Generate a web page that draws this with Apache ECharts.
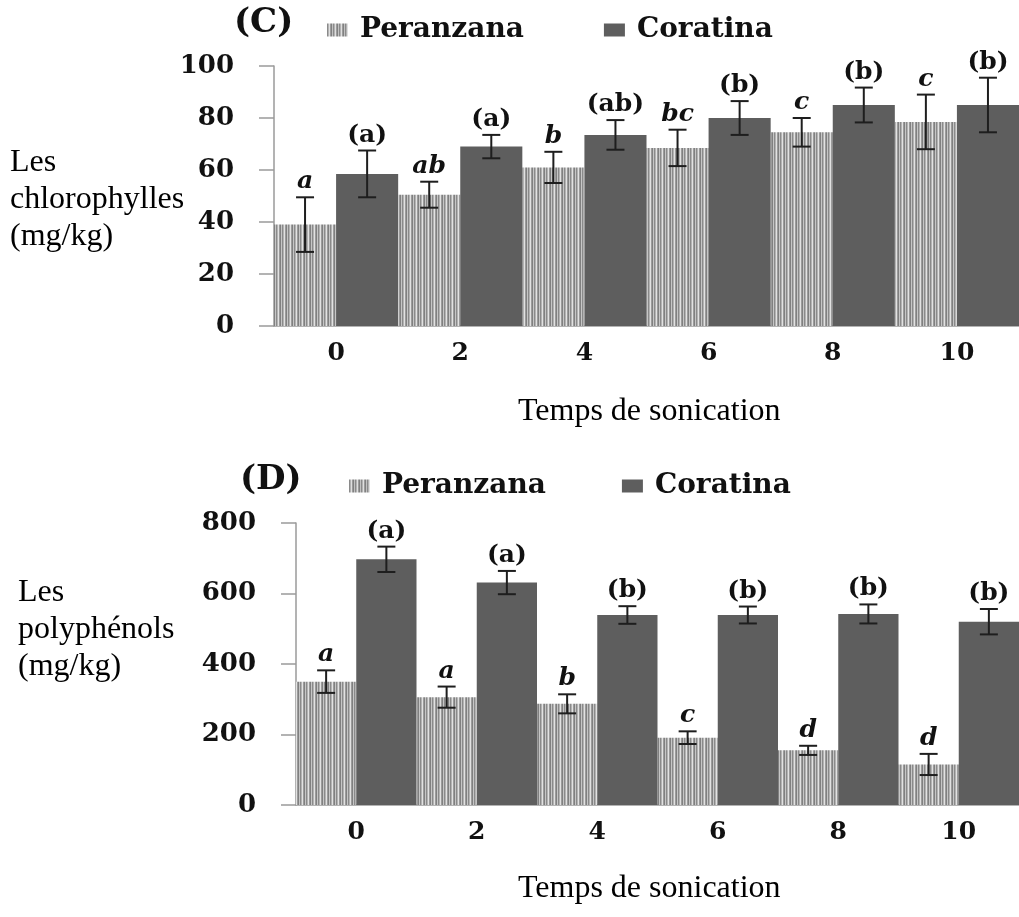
<!DOCTYPE html>
<html>
<head>
<meta charset="utf-8">
<script src="https://cdn.jsdelivr.net/npm/echarts@6/dist/echarts.min.js"></script>
<style>
html, body { margin: 0; padding: 0; background: #fff; }
#main { width: 1019px; height: 917px; }
</style>
</head>
<body>
<div id="main"></div>
<script>
/*==================== données ====================*/
var temps = ['0', '2', '4', '6', '8', '10'];

// (C) chlorophylles
var ticksC = [0, 20, 40, 60, 80, 100];
var perC = [39, 50.5, 61, 68.5, 74.5, 78.5];
var perCErr = [10.5, 5, 6, 7, 5.5, 10.5];
var perCLettres = ['a', 'ab', 'b', 'bc', 'c', 'c'];
var corC = [58.5, 69, 73.5, 80, 85, 85];
var corCErr = [9, 4.5, 5.7, 6.5, 6.7, 10.5];
var corCLettres = ['(a)', '(a)', '(ab)', '(b)', '(b)', '(b)'];

// (D) polyphénols
var ticksD = [0, 200, 400, 600, 800];
var perD = [350, 306, 287, 191, 155, 115];
var perDErr = [32, 30, 27, 18, 13, 30];
var perDLettres = ['a', 'a', 'b', 'c', 'd', 'd'];
var corD = [697, 631, 539, 539, 542, 520];
var corDErr = [36, 33, 25, 24, 27, 36];
var corDLettres = ['(a)', '(a)', '(b)', '(b)', '(b)', '(b)'];

var serif = 'DejaVu Serif';
var times = 'Liberation Serif';
var gris = '#5e5e5e';

// motif rayé vertical pour Peranzana
function rayures() {
    var c = document.createElement('canvas');
    c.width = 6;
    c.height = 4;
    var ctx = c.getContext('2d');
    var cols = ['#8a8a8a', '#b3b3b3', '#e2e2e2', '#9c9c9c', '#808080', '#c6c6c6'];
    for (var i = 0; i < cols.length; i++) {
        ctx.fillStyle = cols[i];
        ctx.fillRect(i, 0, 1, 4);
    }
    return c;
}
var motif = { image: rayures(), repeat: 'repeat' };

// barres d'erreur + lettres (side: -1 gauche, +1 droite)
function erreurs(idx, vals, errs, lettres, side, italique) {
    var data = vals.map(function (v, i) { return [i, v, errs[i]]; });
    return {
        type: 'custom',
        xAxisIndex: idx,
        yAxisIndex: idx,
        z: 5,
        silent: true,
        data: data,
        renderItem: function (params, api) {
            var band = api.size([1, 0])[0];
            var c = api.coord([api.value(0), api.value(1)]);
            var x = c[0] + side * band / 4;
            var hi = api.coord([api.value(0), api.value(1) + api.value(2)])[1];
            var lo = api.coord([api.value(0), api.value(1) - api.value(2)])[1];
            var st = { stroke: '#1e1e1e', lineWidth: 2 };
            return {
                type: 'group',
                children: [
                    { type: 'line', shape: { x1: x, y1: hi, x2: x, y2: lo }, style: st },
                    { type: 'line', shape: { x1: x - 9, y1: hi, x2: x + 9, y2: hi }, style: st },
                    { type: 'line', shape: { x1: x - 9, y1: lo, x2: x + 9, y2: lo }, style: st },
                    {
                        type: 'text',
                        x: x,
                        y: hi - 3,
                        style: {
                            text: lettres[params.dataIndex],
                            fill: '#111',
                            font: (italique ? 'italic ' : '') + 'bold 25px "' + serif + '"',
                            textAlign: 'center',
                            textVerticalAlign: 'bottom'
                        }
                    }
                ]
            };
        }
    };
}

function axeX(idx) {
    return {
        type: 'category',
        gridIndex: idx,
        data: temps,
        axisLine: { lineStyle: { color: '#9a9a9a', width: 1.5 } },
        axisTick: { show: false },
        axisLabel: {
            margin: 15,
            color: '#111',
            fontFamily: serif,
            fontWeight: 'bold',
            fontSize: 25
        }
    };
}

function axeY(idx, ticks) {
    return {
        type: 'value',
        gridIndex: idx,
        min: ticks[0],
        max: ticks[ticks.length - 1],
        interval: ticks[1] - ticks[0],
        axisLine: { show: true, lineStyle: { color: '#9a9a9a', width: 1.5 } },
        axisTick: { show: true, length: 15, lineStyle: { color: '#9a9a9a', width: 1.5 } },
        splitLine: { show: false },
        axisLabel: {
            margin: 40,
            color: '#111',
            fontFamily: serif,
            fontWeight: 'bold',
            fontSize: 26
        }
    };
}

function legende(top, left, gap) {
    return {
        data: ['Peranzana', 'Coratina'],
        top: top,
        left: left,
        icon: 'rect',
        itemWidth: 21,
        itemHeight: 13,
        itemGap: gap,
        textStyle: {
            color: '#111',
            fontFamily: serif,
            fontWeight: 'bold',
            fontSize: 28,
            padding: [0, 0, 0, 7]
        }
    };
}

function titre(txt, left, top) {
    return {
        text: txt,
        left: left,
        top: top,
        padding: 0,
        textStyle: {
            color: '#000',
            fontFamily: times,
            fontWeight: 'normal',
            fontSize: 32,
            lineHeight: 37
        }
    };
}

/*==================== echart ====================*/
var myChart = echarts.init(document.getElementById('main'));
var option = {
    backgroundColor: '#fff',
    animation: false,
    title: [
        { text: '(C)', left: 234, top: 6, padding: 0, textStyle: { color: '#111', fontFamily: serif, fontWeight: 'bold', fontSize: 34 } },
        { text: '(D)', left: 240, top: 463, padding: 0, textStyle: { color: '#111', fontFamily: serif, fontWeight: 'bold', fontSize: 34 } },
        titre('Les\nchlorophylles\n(mg/kg)', 10, 144),
        titre('Les\npolyphénols\n(mg/kg)', 18, 574),
        titre('Temps de sonication', 518, 393),
        titre('Temps de sonication', 518, 870)
    ],
    legend: [legende(11, 322, 80), legende(467, 344, 76)],
    grid: [
        { left: 274, top: 66, width: 750, height: 260 },
        { left: 296, top: 523, width: 728, height: 282 }
    ],
    xAxis: [axeX(0), axeX(1)],
    yAxis: [axeY(0, ticksC), axeY(1, ticksD)],
    series: [
        {
            name: 'Peranzana', type: 'bar', xAxisIndex: 0, yAxisIndex: 0,
            barGap: '0%', barCategoryGap: '0%',
            itemStyle: { color: motif },
            data: perC
        },
        {
            name: 'Coratina', type: 'bar', xAxisIndex: 0, yAxisIndex: 0,
            barGap: '0%', barCategoryGap: '0%',
            itemStyle: { color: gris },
            data: corC
        },
        {
            name: 'Peranzana', type: 'bar', xAxisIndex: 1, yAxisIndex: 1,
            barGap: '0%', barCategoryGap: '0%',
            itemStyle: { color: motif },
            data: perD
        },
        {
            name: 'Coratina', type: 'bar', xAxisIndex: 1, yAxisIndex: 1,
            barGap: '0%', barCategoryGap: '0%',
            itemStyle: { color: gris },
            data: corD
        },
        erreurs(0, perC, perCErr, perCLettres, -1, true),
        erreurs(0, corC, corCErr, corCLettres, 1, false),
        erreurs(1, perD, perDErr, perDLettres, -1, true),
        erreurs(1, corD, corDErr, corDLettres, 1, false)
    ]
};
myChart.setOption(option);
</script>
</body>
</html>
